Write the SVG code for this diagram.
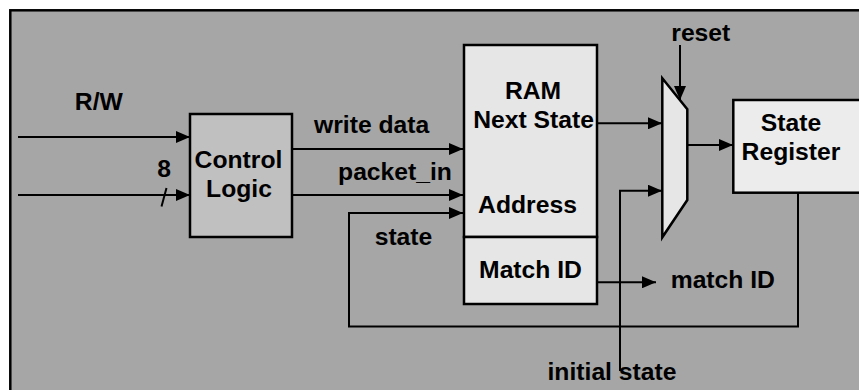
<svg xmlns="http://www.w3.org/2000/svg" width="859" height="390" viewBox="0 0 859 390">
<defs>
<marker id="arr" markerUnits="userSpaceOnUse" markerWidth="14" markerHeight="12" refX="14" refY="6" orient="auto"><path d="M0,0 L14,6 L0,12 z" fill="#000"/></marker>
<style>
text{font-family:"Liberation Sans",Arial,sans-serif;font-weight:bold;font-size:24.7px;fill:#000}
.m{text-anchor:middle}
.box{stroke:#000;stroke-width:2.5}
.w{fill:none;stroke:#000;stroke-width:2}
.a{marker-end:url(#arr)}
</style>
</defs>
<rect x="10.3" y="10.3" width="900" height="450" fill="#a6a6a6" stroke="#000" stroke-width="2.5"/>
<g id="connectors">
<line class="w a" x1="18" y1="137" x2="190" y2="137"/>
<line class="w a" x1="18" y1="195" x2="190" y2="195"/>
<line class="w" x1="161.5" y1="206.5" x2="166.5" y2="188"/>
<line class="w a" x1="292" y1="149" x2="463" y2="149"/>
<line class="w a" x1="292" y1="195" x2="463" y2="195"/>
<polyline class="w a" points="798,193 798,326.5 349,326.5 349,213 463,213"/>
<line class="w a" x1="597" y1="123.3" x2="662" y2="123.3"/>
<polyline class="w a" points="620,371 620,190.7 662,190.7"/>
<line class="w a" x1="680" y1="45" x2="680" y2="100"/>
<line class="w a" x1="687" y1="145" x2="733" y2="145"/>
<line class="w a" x1="597" y1="282.3" x2="656" y2="282.3"/>
</g>
<g id="control-logic">
<rect class="box" x="190" y="114" width="102" height="123" fill="#c0c0c0"/>
<text class="m" x="238.5" y="168">Control</text>
<text class="m" x="239" y="197">Logic</text>
</g>
<g id="ram">
<rect class="box" x="464" y="45" width="133" height="192" fill="#e6e6e6"/>
<text class="m" x="533" y="99">RAM</text>
<text class="m" x="533.5" y="128">Next State</text>
<text class="m" x="527.5" y="213">Address</text>
</g>
<g id="match-id-block">
<rect class="box" x="464" y="237" width="133" height="67" fill="#e6e6e6"/>
<text class="m" x="530.5" y="278">Match ID</text>
</g>
<g id="mux">
<polygon class="box" points="662.3,78.3 687.3,109.3 687.3,200 662.3,237.3" fill="#e6e6e6"/>
</g>
<g id="state-register">
<rect class="box" x="733.3" y="100" width="140" height="92.7" fill="#ececec"/>
<text class="m" x="791" y="131">State</text>
<text class="m" x="791" y="160">Register</text>
</g>
<g id="labels">
<text class="m" x="98.8" y="110">R/W</text>
<text class="m" x="164" y="177">8</text>
<text class="m" x="371.7" y="133">write data</text>
<text class="m" x="395" y="180">packet_in</text>
<text class="m" x="403.5" y="245">state</text>
<text class="m" x="700.8" y="40.7">reset</text>
<text x="670.7" y="288.3">match ID</text>
<text class="m" x="612" y="379.5">initial state</text>
</g>
</svg>
